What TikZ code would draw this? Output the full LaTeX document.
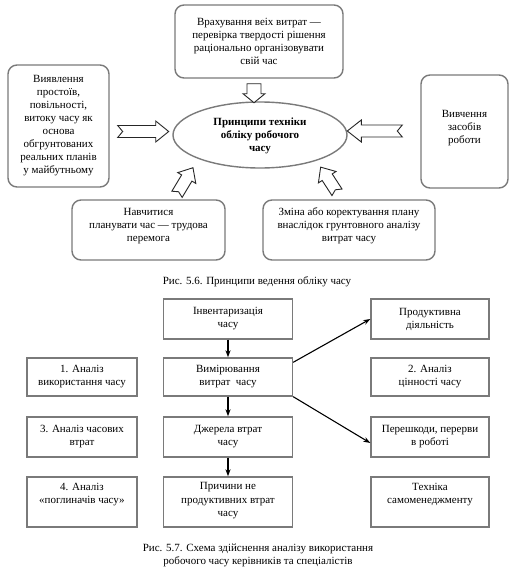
\documentclass[tikz,border=0pt]{standalone}
\usepackage{fontspec}
\setmainfont{Liberation Serif}
\setsansfont{Liberation Serif}
\newfontfamily\tnr{Liberation Serif}
\usetikzlibrary{calc,arrows.meta,shapes.geometric}
\definecolor{bordergray}{HTML}{7A7A7A}
\newcommand\blkarrow[7]{%
  \begin{scope}[shift={#1},rotate=#2]
    \draw[blk] (0,-#6)--(#3-#4,-#6)--(#3-#4,-#5)--(#3,0)--(#3-#4,#5)--(#3-#4,#6)--(0,#6)--(#7,0)--cycle;
  \end{scope}}
\begin{document}
\begin{tikzpicture}[x=1pt,y=-1pt,
  every node/.style={font=\tnr\fontsize{11}{13}\selectfont, align=center, inner sep=0pt},
  rbox/.style={draw=bordergray, line width=1.4pt, rounded corners=9pt},
  sbox/.style={draw=bordergray, line width=1.4pt, minimum width=129pt},
  side/.style={draw=bordergray, line width=1.4pt},
  blk/.style={draw=black!85, line width=0.9pt, fill=white, line join=miter},
  arr/.style={-{Stealth[length=7pt,width=5pt]}, line width=1.1pt, black}]
\useasboundingbox (0,0) rectangle (513,570);
\fill[white] (0,0) rectangle (513,570);

% ---------- Figure 5.6 ----------
\node[rbox, minimum width=168pt, minimum height=73pt] (top) at (259,41.5)
  {Врахування веіх витрат —\\перевірка твердості рішення\\раціонально організовувати\\свій час};
\node[rbox, minimum width=101pt, minimum height=122pt] (lft) at (58.5,126)
  {Виявлення\\простоїв,\\повільності,\\витоку часу як\\основа\\обгрунтованих\\реальних планів\\у майбутньому};
\node[rbox, minimum width=87pt, minimum height=113pt] (rgt) at (464.5,131.5) {};
\node at ($(rgt.center)+(0,-3)$) {Вивчення\\засобів\\роботи};
\node[draw=bordergray, line width=1.4pt, ellipse, minimum width=174pt, minimum height=66pt] (ell) at (260,135) {};
\node[font=\tnr\fontsize{11}{13}\selectfont\bfseries] at ($(ell.center)+(0,1)$) {Принципи техніки\\обліку робочого\\часу};
\node[rbox, minimum width=153pt, minimum height=60pt] (bl) at (148.5,230) {};
\node at ($(bl.center)+(0,-4)$) {Навчитися\\планувати час — трудова\\перемога};
\node[rbox, minimum width=172pt, minimum height=60pt] (br) at (349,230) {};
\node at ($(br.center)+(0,-4)$) {Зміна або коректування плану\\внаслідок грунтовного аналізу\\витрат часу};

% block arrows
\blkarrow{($(top.south)+(-5,5)$)}{-90}{19}{9}{11}{7}{0}
\blkarrow{($(lft.east)+(8,5.5)$)}{0}{51}{13}{10.5}{6}{5}
\blkarrow{($(rgt.west)+(-18,-0.5)$)}{180}{55}{14}{11}{6}{5}
\blkarrow{($(bl.north)+(28.5,-5)$)}{59}{31}{12}{10.5}{6}{3}
\blkarrow{($(br.north)+(-12,-7)$)}{123}{30}{12}{10.5}{6}{3}

\node (cap1) at (257,282) {Рис. 5.6. Принципи ведення обліку часу};

% ---------- Figure 5.7 ----------
\node[sbox, minimum height=40pt] (inv) at (228,319) {Інвентаризація\\часу};
\node[sbox, minimum height=38pt] (vym) at (228,377) {Вимірювання\\витрат\ \ часу};
\node[sbox, minimum height=40pt] (dzh) at (228,437) {Джерела втрат\\часу};
\node[sbox, minimum height=50pt] (pry) at (228,502) {};
\node[font=\tnr\fontsize{11}{13.5}\selectfont] at ($(pry.center)+(0,-1)$) {Причини не\\продуктивних втрат\\часу};

\node[side, minimum width=110pt, minimum height=38pt] (a1) at (82,377) {1. Аналіз\\використання часу};
\node[side, minimum width=110pt, minimum height=40pt] (a3) at (82,437) {3. Аналіз часових\\втрат};
\node[side, minimum width=110pt, minimum height=50pt] (a4) at (82,502) {};
\node at ($(a4.center)+(0,-7)$) {4. Аналіз\\«поглиначів часу»};

\node[side, minimum width=118pt, minimum height=40pt] (prod) at (430,319) {Продуктивна\\діяльність};
\node[side, minimum width=118pt, minimum height=38pt] (a2) at (430,377) {2. Аналіз\\цінності часу};
\node[side, minimum width=118pt, minimum height=40pt] (per) at (430,437) {Перешкоди, перерви\\в роботі};
\node[side, minimum width=118pt, minimum height=50pt] (tex) at (430,502) {};
\node at ($(tex.center)+(0,-7)$) {Техніка\\самоменеджменту};

\draw[arr] (inv) -- (vym);
\draw[arr] (vym) -- (dzh);
\draw[arr] (dzh) -- (pry);
\draw[arr] ([yshift=-5pt]vym.north east) -- (prod.west);
\draw[arr] (vym.south east) -- ([yshift=-6pt]per.west);

\node (cap2) at (258,555) {Рис. 5.7. Схема здійснення аналізу використання\\робочого часу керівників та спеціалістів};
\end{tikzpicture}
\end{document}
